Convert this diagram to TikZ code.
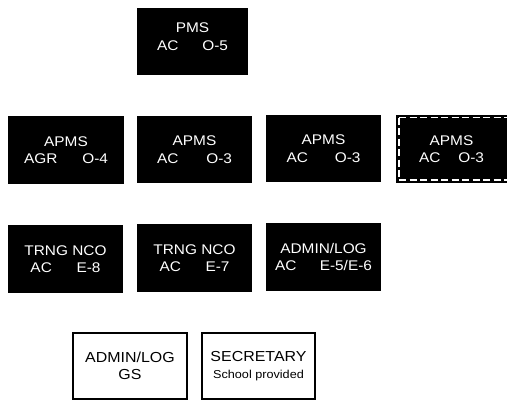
\documentclass[tikz,border=0pt]{standalone}
\usepackage{fontspec}
\setmainfont{Liberation Sans}[FakeStretch=1.1]
\begin{document}
\begin{tikzpicture}[x=1pt,y=-1pt,
  blk/.style={fill=black,draw=none,text=white,inner sep=0pt,outer sep=0pt,align=center,
    font=\fontsize{14}{17.5}\selectfont},
  wht/.style={fill=white,draw=black,line width=1.3pt,text=black,inner sep=0pt,outer sep=0pt,align=center,
    font=\fontsize{14.5}{16.5}\selectfont},
  wdash/.style={draw=white,line width=1.8pt,dash pattern=on 7pt off 3.5pt}]
\clip (0,0) rectangle (507,400);
\fill[white] (0,0) rectangle (507,400);
% row 1
\node[blk,minimum width=111,minimum height=67] (pms) at (192.5,41.5) {PMS\\\makebox[71pt]{AC\hfill O-5}\\[-8pt]\mbox{}};
% row 2
\node[blk,minimum width=116,minimum height=68] (apms1) at (66,150) {APMS\\\makebox[84pt]{AGR\hfill O-4}};
\node[blk,minimum width=115,minimum height=67] (apms2) at (194.5,149.5) {APMS\\\makebox[75pt]{AC\hfill O-3}};
\node[blk,minimum width=115,minimum height=67] (apms3) at (323.5,148.5) {APMS\\\makebox[74pt]{AC\hfill O-3}};
\node[blk,minimum width=116,minimum height=68] (apms4) at (454,149) {\hspace*{-5pt}APMS\\\hspace*{-5pt}\makebox[65pt]{AC\hfill O-3}};
\draw[wdash] ([xshift=3pt,yshift=-2.5pt]apms4.north west) -- ([yshift=-2.5pt]apms4.north east)
  ([xshift=3pt,yshift=3pt]apms4.south west) -- ([yshift=3pt]apms4.south east);
\draw[wdash] ([xshift=3pt,yshift=-2.5pt]apms4.north west) -- ([xshift=3pt,yshift=3pt]apms4.south west);
% row 3
\node[blk,minimum width=115,minimum height=68] (trng1) at (65.5,259) {TRNG NCO\\\makebox[70pt]{AC\hfill E-8}};
\node[blk,minimum width=115,minimum height=68] (trng2) at (194.5,258) {TRNG NCO\\\makebox[70pt]{AC\hfill E-7}};
\node[blk,minimum width=115,minimum height=68] (admin1) at (323.5,257) {ADMIN/LOG\\\makebox[97pt]{AC\hfill E-5/E-6}};
% row 4
\node[wht,minimum width=114,minimum height=66] (admin2) at (130,366) {ADMIN/LOG\\GS};
\node[wht,minimum width=113,minimum height=66] (sec) at (258.5,366) {SECRETARY\\{\fontsize{11.5}{14}\selectfont School provided}};
\end{tikzpicture}
\end{document}
